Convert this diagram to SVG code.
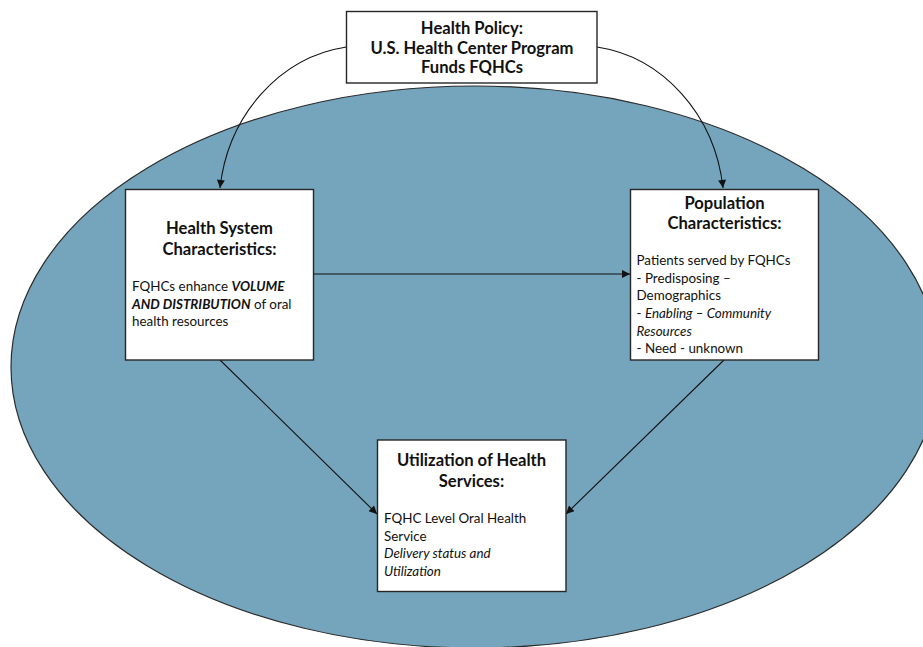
<svg xmlns="http://www.w3.org/2000/svg" width="923" height="647" viewBox="0 0 923 647">
<style>
.box{fill:#fff;stroke:#262626;stroke-width:1.4}
.t{font-family:Lato,"Liberation Sans",sans-serif;font-size:16.6px;font-weight:bold;fill:#111;text-anchor:middle}
.b{font-family:Lato,"Liberation Sans",sans-serif;font-size:13.4px;fill:#111}
.c{fill:none;stroke:#111;stroke-width:1.1}
</style>
<defs>
<marker id="ah" viewBox="0 0 10 10" refX="10" refY="5" markerWidth="10" markerHeight="8" markerUnits="userSpaceOnUse" orient="auto">
<path d="M0,0 L10,5 L0,10 z" fill="#111"/>
</marker>
</defs>
<rect width="923" height="647" fill="#fff"/>
<ellipse id="context" cx="475" cy="367" rx="464" ry="281" fill="#75A5BC" stroke="#2b2b2b" stroke-width="1.2"/>
<g id="connectors">
<path class="c" d="M346.5,47 C280,57 228,115 220,188" marker-end="url(#ah)"/>
<path class="c" d="M597,47 C663,57 715,115 723,188" marker-end="url(#ah)"/>
<path class="c" d="M314,274 L630,274" marker-end="url(#ah)"/>
<path class="c" d="M220,360 L377,514" marker-end="url(#ah)"/>
<path class="c" d="M724,360 L566,514" marker-end="url(#ah)"/>
</g>
<g id="policy">
<rect class="box" x="346.5" y="11.5" width="250.5" height="71.5"/>
<text class="t" x="472" y="34">Health Policy:</text>
<text class="t" x="472" y="53.5">U.S. Health Center Program</text>
<text class="t" x="472" y="73">Funds FQHCs</text>
</g>
<g id="health-system">
<rect class="box" x="125.5" y="189.5" width="188" height="170.5"/>
<text class="t" x="219.5" y="234">Health System</text>
<text class="t" x="219.5" y="255">Characteristics:</text>
<text class="b" x="132" y="291">FQHCs enhance <tspan font-weight="bold" font-style="italic">VOLUME</tspan></text>
<text class="b" x="132" y="308.5"><tspan font-weight="bold" font-style="italic">AND DISTRIBUTION</tspan> of oral</text>
<text class="b" x="132" y="326">health resources</text>
</g>
<g id="population">
<rect class="box" x="630.5" y="189.5" width="188" height="170.5"/>
<text class="t" x="724.5" y="208.5">Population</text>
<text class="t" x="724.5" y="228.5">Characteristics:</text>
<text class="b" x="636.5" y="265">Patients served by FQHCs</text>
<text class="b" x="636.5" y="282.7">- Predisposing –</text>
<text class="b" x="636.5" y="300.3">Demographics</text>
<text class="b" x="636.5" y="318"><tspan>- </tspan><tspan font-style="italic">Enabling – Community</tspan></text>
<text class="b" x="636.5" y="335.5" font-style="italic">Resources</text>
<text class="b" x="636.5" y="353">- Need - unknown</text>
</g>
<g id="utilization">
<rect class="box" x="377.5" y="440" width="188.5" height="151.5"/>
<text class="t" x="471.5" y="466">Utilization of Health</text>
<text class="t" x="471.5" y="487">Services:</text>
<text class="b" x="384" y="523.3">FQHC Level Oral Health</text>
<text class="b" x="384" y="540.7">Service</text>
<text class="b" x="384" y="558.3" font-style="italic">Delivery status and</text>
<text class="b" x="384" y="575.7" font-style="italic">Utilization</text>
</g>
</svg>
